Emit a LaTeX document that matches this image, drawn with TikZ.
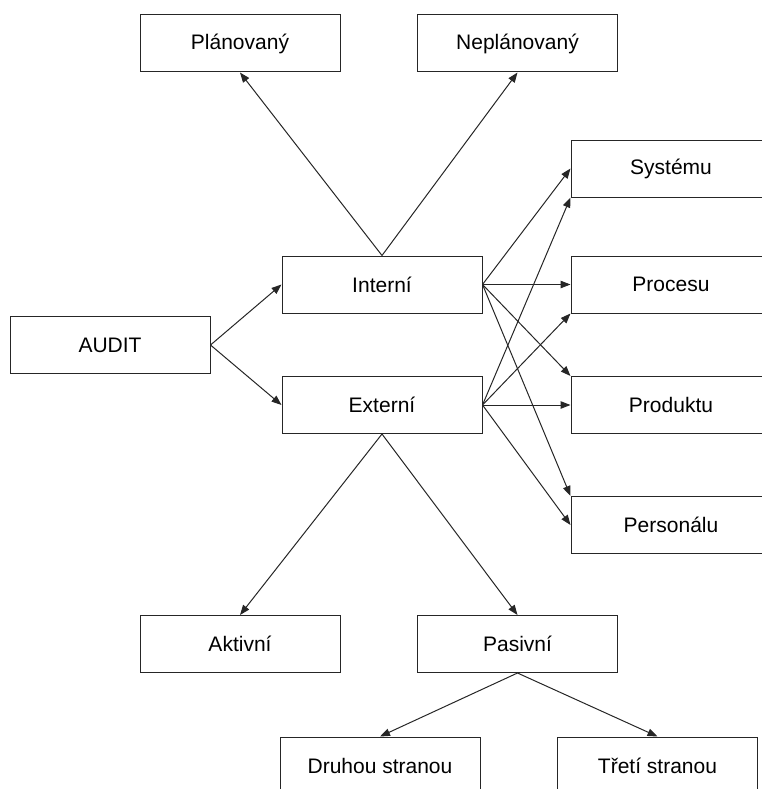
\documentclass[tikz,border=0pt]{standalone}
\usepackage{fontspec}
\setmainfont{Liberation Sans}
\usepackage{tikz}
\usetikzlibrary{arrows.meta,positioning}

\begin{document}
\begin{tikzpicture}[x=1pt,y=-1pt,
  box/.style={draw=black!85, line width=1pt, minimum width=200pt,
    minimum height=57pt, inner sep=0pt, font=\fontsize{21}{25}\selectfont},
  arr/.style={draw=black!85, line width=1pt,
    -{Triangle[length=10pt,width=7.5pt]}}]
\useasboundingbox (0,0) rectangle (761,789);
% main split
\node[box] (audit)   at (110,345)   {AUDIT};
\node[box] (interni) at (382,284.5) {Interní};
\node[box] (externi) at (382,405)   {Externí};
% planned or not
\node[box] (plan)    at (240,43.5)   {Plánovaný};
\node[box] (neplan)  at (517.5,43.5) {Neplánovaný};
% subject of the audit
\node[box] (system)   at (671,168.5) {Systému};
\node[box] (proces)   at (671,284.5) {Procesu};
\node[box] (produkt)  at (671,405)   {Produktu};
\node[box] (personal) at (671,525)   {Personálu};
% external kinds
\node[box] (aktiv) at (240,644)   {Aktivní};
\node[box] (pasiv) at (517.5,644) {Pasivní};
\node[box] (druha) at (380,765.5)   {Druhou stranou};
\node[box] (treti) at (657.5,765.5) {Třetí stranou};
% arrows
\draw[arr] (audit.east) -- (interni.west);
\draw[arr] (audit.east) -- (externi.west);
\draw[arr] (interni.north) -- (plan.south);
\draw[arr] (interni.north) -- (neplan.south);
\draw[arr] (interni.east) -- (system.west);
\draw[arr] (interni.east) -- (proces.west);
\draw[arr] (interni.east) -- (produkt.north west);
\draw[arr] (interni.east) -- (personal.north west);
\draw[arr] (externi.east) -- (system.south west);
\draw[arr] (externi.east) -- (proces.south west);
\draw[arr] (externi.east) -- (produkt.west);
\draw[arr] (externi.east) -- (personal.west);
\draw[arr] (externi.south) -- (aktiv.north);
\draw[arr] (externi.south) -- (pasiv.north);
\draw[arr] (pasiv.south) -- (druha.north);
\draw[arr] (pasiv.south) -- (treti.north);
\end{tikzpicture}
\end{document}
